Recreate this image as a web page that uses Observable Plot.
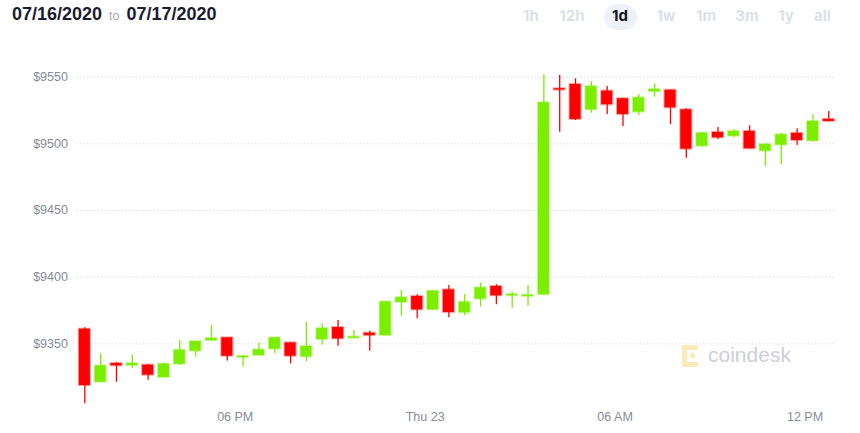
<!DOCTYPE html>
<html>
<head>
<meta charset="utf-8">
<script src="https://cdn.jsdelivr.net/npm/d3@7"></script>
<script src="https://cdn.jsdelivr.net/npm/@observablehq/plot@0.6"></script>
<style>
  html, body { margin: 0; padding: 0; background: #fff; overflow: hidden; width: 860px; height: 433px; }
  body { position: relative; font-family: "Liberation Sans", Arial, sans-serif; }
  #range { position: absolute; left: 12px; top: 3px; font-size: 18px; font-weight: 700; color: #1b1c2e; line-height: 22px; white-space: nowrap; }
  #range .to { font-size: 12.5px; font-weight: 400; color: #a4a7b3; margin: 0 7px 0 7px; }
  .btn { position: absolute; top: 5px; width: 40px; text-align: center; font-family: Inter, "Liberation Sans", sans-serif; font-size: 15px; font-weight: 700; color: #dcdfe9; line-height: 22px; }
  .btn.active { color: #111320; }
  #pill { position: absolute; left: 604px; top: 4px; width: 33px; height: 26px; border-radius: 13px; background: #eef1f8; }
  #chart { position: absolute; left: 0; top: 40px; }
  #wm { position: absolute; left: 0; top: 0; pointer-events: none; }
</style>
</head>
<body>
<div id="range">07/16/2020<span class="to">to</span>07/17/2020</div>
<div id="pill"></div>
<div id="buttons"></div>
<div id="chart"></div>
<svg id="wm" width="860" height="433">
  <g fill="#fdeab9">
    <rect x="682" y="345" width="5" height="22" rx="2"/>
    <rect x="682" y="345" width="16" height="5" rx="2"/>
    <rect x="682" y="362" width="16" height="5" rx="2"/>
    <rect x="690" y="353" width="5" height="5" rx="1.5"/>
  </g>
  <text x="708" y="362" font-family="Liberation Sans, Arial, sans-serif" font-size="21" fill="#cdced6">coindesk</text>
</svg>
<script>
// ---- data ----
const times = [
  "2020-07-22T13:15Z","2020-07-22T13:45Z","2020-07-22T14:15Z","2020-07-22T14:45Z",
  "2020-07-22T15:15Z","2020-07-22T15:45Z","2020-07-22T16:15Z","2020-07-22T16:45Z",
  "2020-07-22T17:15Z","2020-07-22T17:45Z","2020-07-22T18:15Z","2020-07-22T18:45Z",
  "2020-07-22T19:15Z","2020-07-22T19:45Z","2020-07-22T20:15Z","2020-07-22T20:45Z",
  "2020-07-22T21:15Z","2020-07-22T21:45Z","2020-07-22T22:15Z","2020-07-22T22:45Z",
  "2020-07-22T23:15Z","2020-07-22T23:45Z","2020-07-23T00:15Z","2020-07-23T00:45Z",
  "2020-07-23T01:15Z","2020-07-23T01:45Z","2020-07-23T02:15Z","2020-07-23T02:45Z",
  "2020-07-23T03:15Z","2020-07-23T03:45Z","2020-07-23T04:15Z","2020-07-23T04:45Z",
  "2020-07-23T05:15Z","2020-07-23T05:45Z","2020-07-23T06:15Z","2020-07-23T06:45Z",
  "2020-07-23T07:15Z","2020-07-23T07:45Z","2020-07-23T08:15Z","2020-07-23T08:45Z",
  "2020-07-23T09:15Z","2020-07-23T09:45Z","2020-07-23T10:15Z","2020-07-23T10:45Z",
  "2020-07-23T11:15Z","2020-07-23T11:45Z","2020-07-23T12:15Z","2020-07-23T12:45Z"
];
const open  = [9361.0,9321.2,9335.2,9333.7,9334.0,9324.7,9334.7,9344.5,9352.3,9354.5,9339.7,9341.2,
               9346.0,9350.7,9340.2,9353.2,9362.2,9354.2,9358.0,9356.2,9381.0,9385.5,9375.5,9390.5,
               9373.3,9383.5,9393.0,9386.0,9385.5,9386.8,9541.3,9544.5,9525.5,9539.5,9533.8,9523.7,
               9539.0,9540.2,9525.5,9498.2,9508.5,9505.7,9509.3,9494.5,9499.0,9507.8,9502.0,9518.3];
const high  = [9362.0,9342.5,9336.0,9341.5,9334.5,9335.5,9352.5,9351.7,9364.0,9354.5,9341.0,9350.7,
               9354.5,9351.0,9366.2,9365.0,9367.5,9360.0,9359.5,9381.5,9390.0,9386.8,9390.0,9393.7,
               9387.0,9395.5,9394.3,9388.7,9393.7,9551.8,9551.3,9548.8,9546.8,9543.0,9534.0,9536.8,
               9545.0,9540.3,9526.3,9508.3,9512.3,9510.5,9513.5,9500.0,9508.0,9511.3,9522.0,9524.3];
const low   = [9305.0,9321.0,9321.2,9331.7,9322.7,9324.5,9334.0,9340.0,9352.0,9337.2,9332.7,9341.0,
               9342.5,9335.0,9336.7,9349.0,9348.2,9354.0,9344.5,9356.0,9370.7,9368.8,9375.0,9369.5,
               9371.0,9377.5,9379.3,9376.7,9378.2,9386.5,9508.7,9517.5,9523.0,9522.0,9513.0,9521.3,
               9535.0,9514.3,9489.2,9497.5,9503.3,9504.5,9496.0,9483.2,9484.5,9498.8,9501.5,9516.5];
const close = [9318.7,9333.5,9333.5,9335.2,9326.5,9334.8,9345.2,9351.7,9354.0,9340.7,9340.7,9345.5,
               9354.5,9340.7,9348.0,9361.5,9353.7,9355.2,9356.2,9381.5,9384.7,9375.5,9389.5,9373.5,
               9381.2,9392.0,9386.0,9387.0,9386.5,9530.8,9540.3,9518.3,9543.0,9529.3,9522.0,9534.5,
               9540.8,9527.0,9496.0,9508.0,9504.5,9509.3,9496.3,9499.5,9506.8,9502.5,9516.8,9516.8];
const yTicks = [9350, 9400, 9450, 9500, 9550];
const xTickTimes  = ["2020-07-22T18:00Z","2020-07-23T00:00Z","2020-07-23T06:00Z","2020-07-23T12:00Z"];
const xTickLabels = ["06 PM","Thu 23","06 AM","12 PM"];
const buttons = ["1h","12h","1d","1w","1m","3m","1y","all"];
const buttonCenters = [531,572,620,666,706,747,786,822.5];

const GREEN = "#7cee00", RED = "#ff0000";
const data = times.map((t, i) => ({t: new Date(t), o: open[i], h: high[i], l: low[i], c: close[i]}));
const col = d => d.c >= d.o ? GREEN : RED;
const HALF = 10.5 * 60000;

// header buttons
const bc = document.getElementById("buttons");
buttons.forEach((b, i) => {
  const s = document.createElement("div");
  s.className = "btn" + (b === "1d" ? " active" : "");
  s.style.left = (buttonCenters[i] - 20) + "px";
  s.textContent = b;
  bc.appendChild(s);
});

const chart = Plot.plot({
  width: 860,
  height: 393,
  marginLeft: 76.4,
  marginRight: 23.8,
  marginTop: 3.3,
  marginBottom: 23,
  style: {fontFamily: "'Liberation Sans', Arial, sans-serif", fontSize: "12.5px", color: "#878b98", background: "transparent"},
  x: {type: "utc", domain: [new Date("2020-07-22T13:00Z"), new Date("2020-07-23T13:00Z")],
      ticks: xTickTimes.map(d => new Date(d)), tickFormat: (d, i) => xTickLabels[i],
      tickSize: 0, tickPadding: 2, label: null},
  y: {domain: [9300, 9575], ticks: yTicks, tickFormat: d => "$" + d, tickSize: 0, tickPadding: 9, label: null},
  color: {type: "identity"},
  marks: [
    Plot.ruleY(yTicks, {stroke: "#dcdde6", strokeDasharray: "1.5,2", strokeWidth: 1}),
    Plot.ruleX(data, {x: "t", y1: "l", y2: "h", stroke: col, strokeWidth: 1.3}),
    Plot.rect(data, {
      x1: d => new Date(+d.t - HALF), x2: d => new Date(+d.t + HALF),
      y1: d => Math.min(d.o, d.c), y2: d => Math.max(d.o, d.c),
      fill: col, stroke: col, strokeOpacity: 0.35, strokeWidth: 2
    })
  ]
});
document.getElementById("chart").appendChild(chart);
</script>
</body>
</html>
